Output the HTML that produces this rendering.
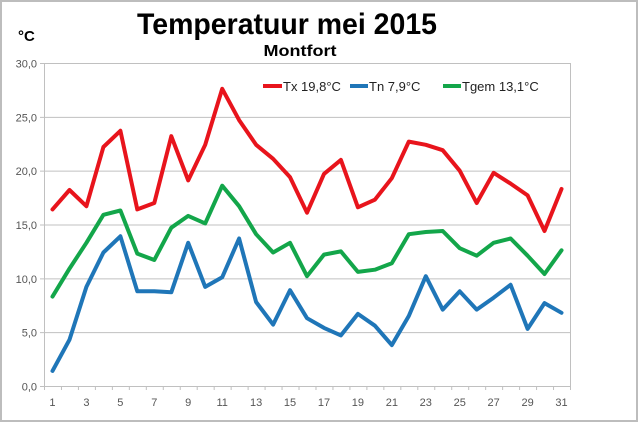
<!DOCTYPE html>
<html><head><meta charset="utf-8"><style>
html,body{margin:0;padding:0;background:#fff;}
svg{display:block;font-family:"Liberation Sans",sans-serif;}
</style></head><body>
<svg width="640" height="424" viewBox="0 0 640 424" xmlns="http://www.w3.org/2000/svg">
<rect x="1" y="1" width="636" height="420" fill="#fff" stroke="#bdbdbd" stroke-width="2"/>
<text x="287" y="34" font-size="30" font-weight="bold" text-anchor="middle" textLength="300" lengthAdjust="spacingAndGlyphs">Temperatuur mei 2015</text>
<text x="300" y="56" font-size="16" font-weight="bold" text-anchor="middle" textLength="73" lengthAdjust="spacingAndGlyphs">Montfort</text>
<text x="18" y="41" font-size="15" font-weight="bold">°C</text>
<g id="grid" stroke="#c0c0c0" stroke-width="1"></g>
<g id="lab" font-size="11" fill="#555"></g>
<g id="ser" fill="none" stroke-width="4" stroke-linejoin="round" stroke-linecap="round"></g>
<g font-size="13" fill="#222">
<line x1="263" y1="86" x2="282" y2="86" stroke="#e8141c" stroke-width="4"/>
<text x="283" y="91">Tx 19,8°C</text>
<line x1="350" y1="86" x2="368" y2="86" stroke="#1f76b8" stroke-width="4"/>
<text x="369" y="91">Tn 7,9°C</text>
<line x1="443" y1="86" x2="461" y2="86" stroke="#13a64a" stroke-width="4"/>
<text x="462" y="91">Tgem 13,1°C</text>
</g>
</svg>
<script>
const ns="http://www.w3.org/2000/svg";
const L=44,R=570,T=63,B=386;
const X=i=>L+(i-0.5)*(R-L)/31, Y=v=>B-v*(B-T)/30;
const g=document.getElementById('grid'),lab=document.getElementById('lab'),ser=document.getElementById('ser');
function el(p,n,a,t){const e=document.createElementNS(ns,n);for(const k in a)e.setAttribute(k,a[k]);if(t)e.textContent=t;p.appendChild(e);return e;}
for(let v=0;v<=30;v+=5){const y=Y(v)+.5;el(g,'line',{x1:L-4,y1:y,x2:R,y2:y});el(lab,'text',{x:L-7,y:y+4,'text-anchor':'end'},v.toFixed(1).replace('.',','));}
el(g,'line',{x1:L+.5,y1:T,x2:L+.5,y2:B+.5});el(g,'line',{x1:R+.5,y1:T,x2:R+.5,y2:B+.5});
for(let i=0;i<=31;i++){const x=L+i*(R-L)/31+.5;el(g,'line',{x1:x,y1:B,x2:x,y2:B+4});}
for(let i=1;i<=31;i+=2)el(lab,'text',{x:X(i),y:B+20,'text-anchor':'middle'},i);
const tx=[16.4,18.2,16.7,22.2,23.7,16.4,17.0,23.2,19.1,22.4,27.6,24.7,22.4,21.1,19.4,16.1,19.7,21.0,16.6,17.3,19.3,22.7,22.4,21.9,20.0,17.0,19.8,18.8,17.7,14.4,18.3];
const tn=[1.4,4.3,9.2,12.4,13.9,8.8,8.8,8.7,13.3,9.2,10.1,13.7,7.8,5.7,8.9,6.3,5.4,4.7,6.7,5.6,3.8,6.5,10.2,7.1,8.8,7.1,8.2,9.4,5.3,7.7,6.8];
const tg=[8.3,10.9,13.3,15.9,16.3,12.3,11.7,14.7,15.8,15.1,18.6,16.7,14.1,12.4,13.3,10.2,12.2,12.5,10.6,10.8,11.4,14.1,14.3,14.4,12.8,12.1,13.3,13.7,12.1,10.4,12.6];
[[tx,'#e8141c'],[tn,'#1f76b8'],[tg,'#13a64a']].forEach(([d,c])=>el(ser,'polyline',{stroke:c,points:d.map((v,i)=>X(i+1).toFixed(1)+','+Y(v).toFixed(1)).join(' ')}));
</script>
</body></html>
